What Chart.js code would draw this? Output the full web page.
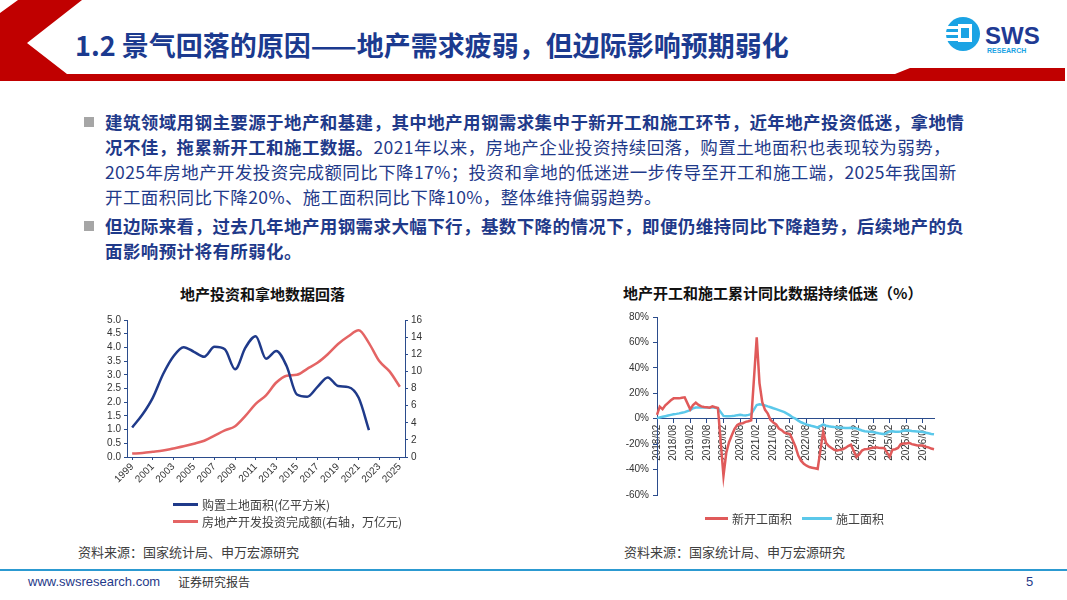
<!DOCTYPE html>
<html>
<head>
<meta charset="utf-8">
<script src="https://cdn.jsdelivr.net/npm/chart.js@4.4.1/dist/chart.umd.min.js"></script>
<style>
body { margin: 0; }
#page { position: relative; width: 1067px; height: 600px; background: #fff; overflow: hidden;
        font-family: "Noto Sans CJK SC", "Noto Sans", sans-serif; }
.abs { position: absolute; }
#title { left: 75px; top: 25px; font-size: 27px; font-weight: 700; color: #1B3A8F; white-space: nowrap; }
#bullets { left: 105px; top: 109px; width: 900px; font-size: 17.5px; line-height: 25px; color: #1F3A8A; white-space: nowrap; letter-spacing: 0.4px; }
#bullets b { font-weight: 700; }
.sq { position: absolute; width: 10px; height: 10px; background: #A6A6A6; left: 84px; }
.ctitle { font-size: 15px; font-weight: 700; color: #111; white-space: nowrap; }
.src { font-size: 13px; color: #404040; white-space: nowrap; }
.leg { font-size: 12px; color: #404040; white-space: nowrap; display: flex; align-items: center; }
.sw { display: inline-block; height: 3px; margin-right: 4px; }
</style>
</head>
<body>
<div id="page">
  <svg class="abs" style="left:0;top:0" width="1067" height="100">
    <polygon points="18,0 82,0 27,43 67,74 895,74 910,68 1065,68 1065,81 0,81 0,13" fill="#C00000"/>
    <circle cx="963" cy="34" r="17" fill="#1AA3E4"/>
    <rect x="946" y="26" width="20" height="3" fill="#fff"/>
    <rect x="946" y="32" width="20" height="3" fill="#fff"/>
    <rect x="946" y="38" width="20" height="3" fill="#fff"/>
    <rect x="958" y="24" width="14" height="18" fill="#fff"/>
    <rect x="961" y="28" width="8" height="10" fill="#1AA3E4"/>
    <text x="985" y="44" font-family="Liberation Sans, Arial" font-weight="700" font-size="24" fill="#1F3A93">SWS</text>
    <text x="987" y="53" font-family="Liberation Sans, Arial" font-weight="700" font-size="7" fill="#1AA3E4">RESEARCH</text>
  </svg>
  <div id="title" class="abs">1.2 景气回落的原因——地产需求疲弱，但边际影响预期弱化</div>

  <div class="sq" style="top:117px"></div>
  <div class="sq" style="top:221px"></div>
  <div id="bullets" class="abs">
    <b>建筑领域用钢主要源于地产和基建，其中地产用钢需求集中于新开工和施工环节，近年地产投资低迷，拿地情</b><br>
    <b>况不佳，拖累新开工和施工数据。</b>2021年以来，房地产企业投资持续回落，购置土地面积也表现较为弱势，<br>
    2025年房地产开发投资完成额同比下降17%；投资和拿地的低迷进一步传导至开工和施工端，2025年我国新<br>
    开工面积同比下降20%、施工面积同比下降10%，整体维持偏弱趋势。<br>
    <div style="height:4px"></div>
    <b>但边际来看，过去几年地产用钢需求大幅下行，基数下降的情况下，即便仍维持同比下降趋势，后续地产的负</b><br>
    <b>面影响预计将有所弱化。</b>
  </div>

  <div class="abs ctitle" style="left:180px;top:283px">地产投资和拿地数据回落</div>
  <div class="abs ctitle" style="left:623px;top:282px">地产开工和施工累计同比数据持续低迷（%）</div>

  <div class="abs" style="left:95px;top:310px;width:340px;height:190px"><canvas id="landChart"></canvas></div>
  <div class="abs" style="left:600px;top:305px;width:345px;height:200px"><canvas id="startChart"></canvas></div>

  <div class="abs leg" style="left:173px;top:496px"><span class="sw" style="width:25px;background:#1F3A8A"></span>购置土地面积(亿平方米)</div>
  <div class="abs leg" style="left:173px;top:513px"><span class="sw" style="width:25px;background:#E46464"></span>房地产开发投资完成额(右轴，万亿元)</div>
  <div class="abs leg" style="left:705px;top:510px"><span class="sw" style="width:23px;background:#E05A5A"></span>新开工面积<span class="sw" style="width:30px;background:#5BC8EA;margin-left:10px"></span>施工面积</div>

  <div class="abs src" style="left:78px;top:542px">资料来源：国家统计局、申万宏源研究</div>
  <div class="abs src" style="left:624px;top:542px">资料来源：国家统计局、申万宏源研究</div>

  <div class="abs" style="left:0;top:569px;width:1067px;height:2px;background:#2C9AD1"></div>
  <div class="abs" style="left:28px;top:574px;font-family:'Liberation Sans',Arial;font-size:13px;color:#1F3A8A">www.swsresearch.com</div>
  <div class="abs" style="left:178px;top:573px;font-size:12px;color:#333">证券研究报告</div>
  <div class="abs" style="left:1026px;top:574px;font-family:'Liberation Sans',Arial;font-size:13px;color:#1F3A8A">5</div>
</div>

<script>
// left chart: annual data
const years = ['1999','2000','2001','2002','2003','2004','2005','2006','2007','2008','2009','2010','2011','2012',
  '2013','2014','2015','2016','2017','2018','2019','2020','2021','2022','2023','2024','2025'];
const landArea = [1.08, 1.55, 2.16, 3.02, 3.67, 4.01, 3.84, 3.66, 4.02, 3.93, 3.20, 3.99, 4.41, 3.59,
  3.87, 3.32, 2.28, 2.20, 2.56, 2.90, 2.59, 2.55, 2.16, 0.98, null, null, null];
const investment = [0.40, 0.47, 0.60, 0.75, 1.00, 1.25, 1.55, 1.90, 2.50, 3.10, 3.60, 4.80, 6.20, 7.20,
  8.70, 9.50, 9.60, 10.30, 11.00, 12.00, 13.20, 14.10, 14.80, 13.30, 11.20, 10.00, 8.20];

// right chart: monthly cumulative yoy (%), January not published -> null
const newStartYoy = [
  3, 9.5, 7.5, 10.5, 12.5, 14.5, 16, 16, 16, 16.5, 16.8,            // 2018
  null, 7.4, 10.8, 12.6, 10.8, 9.7, 9.2, 9.0, 8.7, 9.7, 9.0, 8.4,    // 2019
  null, -45, -27, -18.5, -13, -8, -5, -3.8, -3.5, -2.5, -2, -1.2,   // 2020
  null, 64, 28, 13, 7, 4, -1, -3, -4.5, -7.7, -9, -11,               // 2021
  null, -12, -17, -22, -29, -33, -35.5, -37, -38, -38.5, -39, -39.5, // 2022
  null, -10, -19, -21.5, -23, -24.5, -25, -24.5, -24, -23, -21.5, -20.5, // 2023
  null, -30, -28, -25, -24, -23.8, -23.2, -22.8, -22.5, -22.8, -23, -23, // 2024
  null, -30, -24.5, -24, -23, -20, -19.5, -19.5, -19, -20, -20.5, -21,   // 2025
  null, -21, -22, -22.5, -23.5, -24                                   // 2026
];
const underConstructionYoy = [
  0.5, 1, 1.5, 2, 2.5, 3, 3.5, 3.8, 4.2, 4.7, 5.2,
  null, 6.8, 8.2, 8.8, 8.8, 8.8, 9, 8.8, 8.7, 9, 8.6, 8.2,
  null, 2.2, 2.0, 2.0, 2.1, 2.3, 2.8, 3.1, 2.8, 2.6, 3.0, 3.5,
  null, 10.8, 11.3, 11, 10.5, 9.7, 9.0, 8.2, 7.5, 6.8, 6, 5.2,
  null, 2.6, 1, 0, -1.5, -2.8, -3.7, -4.5, -5.2, -5.8, -6.3, -7,
  null, -4.5, -5.5, -6, -6.3, -6.6, -6.8, -7.1, -7.1, -7.3, -7.3, -7.2,
  null, -7.6, -8.5, -9.3, -9.8, -10.1, -10.3, -10.5, -11, -11.5, -11.8, -12.1,
  null, -10, -9.8, -10.2, -10.3, -10, -9.5, -9, -9.3, -9.6, -9.8, -10,
  null, -10.5, -11, -11.5, -12, -12.3
];
const months = [];
for (let y = 2018; y <= 2026; y++) {
  for (let m = 1; m <= 12; m++) {
    if (y === 2018 && m === 1) continue;
    if (y === 2026 && m > 6) break;
    months.push(y + '/' + String(m).padStart(2, '0'));
  }
}

const axisColor = '#2B4C8C';
const tickColor = '#333';
Chart.defaults.font.family = "'Liberation Sans', Arial, sans-serif";
Chart.defaults.font.size = 10;
Chart.defaults.color = tickColor;

function fixWidth(w) { return scale => { scale.width = w; }; }

new Chart(document.getElementById('landChart').getContext('2d'), {
  type: 'line',
  data: {
    labels: years,
    datasets: [
      { label: '购置土地面积(亿平方米)', data: landArea, yAxisID: 'y', borderColor: '#1F3A8A',
        borderWidth: 2.5, pointRadius: 0, cubicInterpolationMode: 'monotone' },
      { label: '房地产开发投资完成额(右轴，万亿元)', data: investment, yAxisID: 'y2', borderColor: '#E46464',
        borderWidth: 2.5, pointRadius: 0, cubicInterpolationMode: 'monotone' }
    ]
  },
  options: {
    responsive: true, maintainAspectRatio: false, animation: false,
    layout: { padding: { top: 10, left: 0, right: 0, bottom: 0 } },
    plugins: { legend: { display: false }, tooltip: { enabled: false } },
    scales: {
      x: {
        offset: true,
        grid: { drawOnChartArea: false, tickLength: 3, color: axisColor },
        border: { color: axisColor },
        ticks: { autoSkip: false, minRotation: 45, maxRotation: 45, padding: 1,
                 callback: (v, i) => i % 2 === 0 ? years[i] : null },
        afterFit: s => { s.height = 43; }
      },
      y: {
        min: 0, max: 5,
        grid: { drawOnChartArea: false, tickLength: 3, color: axisColor },
        border: { color: axisColor },
        ticks: { stepSize: 0.5, autoSkip: false, padding: 3, callback: v => v.toFixed(1) },
        afterFit: fixWidth(32)
      },
      y2: {
        position: 'right', min: 0, max: 16,
        grid: { drawOnChartArea: false, tickLength: 3, color: axisColor },
        border: { color: axisColor },
        ticks: { stepSize: 2, autoSkip: false, padding: 3 },
        afterFit: fixWidth(30)
      }
    }
  }
});

new Chart(document.getElementById('startChart').getContext('2d'), {
  type: 'line',
  data: {
    labels: months,
    datasets: [
      { label: '新开工面积', data: newStartYoy, borderColor: '#E05A5A', borderWidth: 2.5,
        pointRadius: 0, spanGaps: true, tension: 0 },
      { label: '施工面积', data: underConstructionYoy, borderColor: '#5BC8EA', borderWidth: 2.5,
        pointRadius: 0, spanGaps: true, tension: 0 }
    ]
  },
  options: {
    responsive: true, maintainAspectRatio: false, animation: false,
    layout: { padding: { top: 12, left: 0, right: 11, bottom: 6 } },
    plugins: { legend: { display: false }, tooltip: { enabled: false } },
    scales: {
      x: {
        position: { y: 0 },
        grid: { drawOnChartArea: false, tickLength: 4, color: axisColor },
        border: { color: axisColor },
        ticks: { autoSkip: false, minRotation: 90, maxRotation: 90, padding: 2,
                 callback: (v, i) => i % 6 === 0 ? months[i] : null }
      },
      y: {
        min: -60, max: 80,
        grid: { drawOnChartArea: false, tickLength: 4, color: axisColor },
        border: { color: axisColor },
        ticks: { stepSize: 20, autoSkip: false, padding: 4, callback: v => v + '%' },
        afterFit: fixWidth(57)
      }
    }
  }
});
</script>
</body>
</html>
